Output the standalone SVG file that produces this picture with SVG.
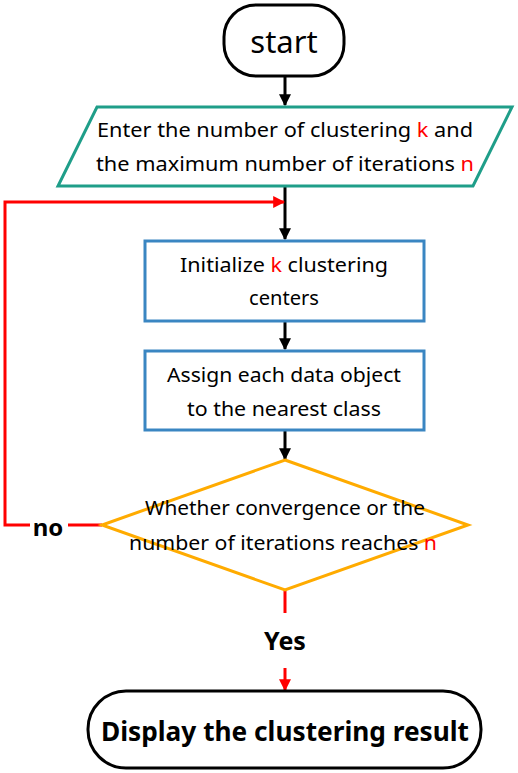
<svg xmlns="http://www.w3.org/2000/svg" width="518" height="773" viewBox="0 0 518 773">
<style>
text{font-family:"Comic Sans MS","Noto Sans",sans-serif;fill:#000;text-anchor:middle}
.t{font-size:19px}
.r{fill:#ff0000}
.blk{stroke:#000;stroke-width:3;fill:none}
.red{stroke:#ff0000;stroke-width:3;fill:none}
.box{fill:#fff;stroke:#3a86c2;stroke-width:3}
</style>
<defs>
<marker id="ab" viewBox="0 0 10 10" refX="9" refY="5" markerWidth="4" markerHeight="4" orient="auto" markerUnits="strokeWidth"><path d="M0,0L10,5L0,10z" fill="#000"/></marker>
<marker id="ar" viewBox="0 0 10 10" refX="9" refY="5" markerWidth="4" markerHeight="4" orient="auto" markerUnits="strokeWidth"><path d="M0,0L10,5L0,10z" fill="#ff0000"/></marker>
</defs>
<rect width="518" height="773" fill="#fff"/>
<g id="connectors">
<line class="blk" x1="285" y1="76" x2="285" y2="105" marker-end="url(#ab)"/>
<line class="blk" x1="285" y1="187" x2="285" y2="239" marker-end="url(#ab)"/>
<line class="blk" x1="285" y1="321" x2="285" y2="349" marker-end="url(#ab)"/>
<line class="blk" x1="285" y1="430" x2="285" y2="459" marker-end="url(#ab)"/>
<polyline class="red" points="102,525 5,525 5,202 284,202" marker-end="url(#ar)"/>
<line class="red" x1="285" y1="590" x2="285" y2="613"/>
<line class="red" x1="285" y1="668" x2="285" y2="690" marker-end="url(#ar)"/>
<rect x="30" y="510" width="38" height="28" fill="#fff"/>
<text x="48" y="536" style="font-size:24px;font-weight:bold">no</text>
<text x="285" y="650" style="font-size:25px;font-weight:bold">Yes</text>
</g>
<g id="start">
<rect x="224" y="5" width="120" height="71" rx="32" fill="#fff" stroke="#000" stroke-width="3"/>
<text x="284" y="53" style="font-size:31px">start</text>
</g>
<g id="input">
<polygon points="97,107 512,107 473,186 58,186" fill="#fff" stroke="#1f9e89" stroke-width="3"/>
<text class="t" x="285" y="137" textLength="376" lengthAdjust="spacingAndGlyphs">Enter the number of clustering <tspan class="r">k</tspan> and</text>
<text class="t" x="285" y="171" textLength="378" lengthAdjust="spacingAndGlyphs">the maximum number of iterations <tspan class="r">n</tspan></text>
</g>
<g id="init">
<rect class="box" x="145" y="241" width="279" height="80"/>
<text class="t" x="284" y="272" textLength="208" lengthAdjust="spacingAndGlyphs">Initialize <tspan class="r">k</tspan> clustering</text>
<text class="t" x="284" y="305" textLength="70" lengthAdjust="spacingAndGlyphs">centers</text>
</g>
<g id="assign">
<rect class="box" x="145" y="351" width="279" height="79"/>
<text class="t" x="284" y="382" textLength="234" lengthAdjust="spacingAndGlyphs">Assign each data object</text>
<text class="t" x="284" y="416" textLength="194" lengthAdjust="spacingAndGlyphs">to the nearest class</text>
</g>
<g id="decision">
<polygon points="285,460 468,525 285,590 102,525" fill="#fff" stroke="#ffab00" stroke-width="3"/>
<text class="t" x="285" y="515" textLength="280" lengthAdjust="spacingAndGlyphs">Whether convergence or the</text>
<text class="t" x="283" y="550" textLength="308" lengthAdjust="spacingAndGlyphs">number of iterations reaches <tspan class="r">n</tspan></text>
</g>
<g id="result">
<rect x="88" y="691" width="393" height="77" rx="38" fill="#fff" stroke="#000" stroke-width="3"/>
<text x="285" y="741" textLength="368" lengthAdjust="spacingAndGlyphs" style="font-size:27px;font-weight:bold">Display the clustering result</text>
</g>
</svg>
